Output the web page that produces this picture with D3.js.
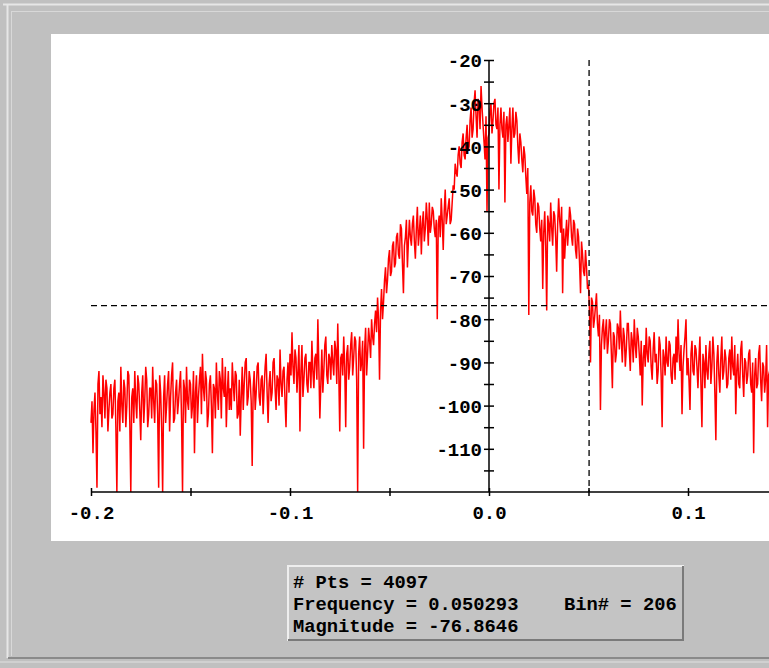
<!DOCTYPE html>
<html><head><meta charset="utf-8">
<script src="https://cdn.jsdelivr.net/npm/d3@7"></script>
<style>html,body{margin:0;padding:0;background:#c0c0c0;overflow:hidden}</style>
</head><body>
<svg id="c" width="769" height="668"></svg>
<script>
// ---- data ----
const freqStart = -0.2;
const freqStep = 0.0005;
const magnitude = [
-104,-99,-111,-101,-97,-106,-119,-95,-92,-102,-98,-105,-93,-97,-103,-94,-96,-106,-101,-97,
-95,-103,-102,-96,-94,-105,-120,-99,-97,-106,-91,-100,-104,-94,-96,-105,-100,-92,-93,-104,
-120,-98,-96,-104,-92,-99,-103,-93,-95,-101,-108,-97,-93,-104,-99,-91,-94,-105,-102,-96,
-96,-103,-91,-99,-104,-94,-95,-102,-119,-93,-97,-105,-120,-98,-93,-104,-100,-95,-92,-106,
-98,-93,-90,-104,-103,-97,-94,-102,-99,-95,-92,-103,-120,-94,-96,-104,-91,-99,-101,-94,
-95,-103,-100,-92,-111,-97,-93,-104,-98,-94,-91,-102,-88,-96,-99,-92,-94,-105,-102,-95,
-93,-100,-111,-95,-96,-103,-90,-97,-101,-92,-94,-103,-89,-96,-98,-91,-105,-97,-92,-101,
-96,-101,-90,-95,-99,-92,-93,-103,-102,-94,-107,-98,-91,-101,-95,-90,-89,-100,-98,-92,
-94,-99,-114,-96,-92,-101,-97,-91,-90,-98,-100,-94,-93,-102,-96,-91,-88,-97,-104,-95,
-92,-99,-97,-90,-89,-96,-101,-93,-94,-100,-87,-95,-98,-92,-91,-99,-105,-94,-90,-97,
-88,-93,-83,-91,-95,-87,-89,-97,-92,-86,-106,-92,-86,-98,-94,-89,-88,-95,-97,-90,
-90,-96,-85,-92,-96,-89,-88,-94,-80,-91,-103,-95,-87,-97,-92,-86,-84,-93,-95,-88,
-89,-94,-86,-90,-93,-85,-87,-95,-81,-92,-106,-89,-88,-93,-84,-91,-105,-88,-86,-94,
-91,-86,-83,-93,-89,-84,-85,-94,-120,-88,-84,-92,-90,-85,-110,-87,-82,-93,-88,-82,
-85,-89,-80,-84,-86,-81,-78,-83,-75,-80,-94,-78,-73,-80,-76,-71,-68,-74,-71,-66,
-64,-70,-69,-63,-62,-68,-67,-61,-60,-65,-66,-58,-59,-67,-74,-63,-61,-57,-68,-62,
-57,-61,-63,-58,-56,-62,-66,-59,-54,-63,-60,-56,-65,-58,-55,-62,-59,-53,-57,-63,
-53,-60,-58,-54,-55,-59,-61,-57,-80,-58,-56,-61,-52,-57,-64,-55,-50,-58,-56,-54,
-52,-58,-57,-53,-49,-50,-44,-46,-47,-42,-40,-44,-45,-39,-37,-42,-43,-38,-35,-41,
-40,-34,-31,-38,-36,-30,-27,-33,-38,-29,-30,-36,-26,-31,-35,-39,-43,-33,-55,-38,
-37,-32,-30,-37,-34,-30,-29,-35,-36,-31,-50,-35,-31,-36,-38,-32,-53,-35,-33,-39,
-35,-31,-44,-36,-31,-38,-37,-32,-34,-40,-44,-37,-39,-43,-46,-40,-42,-47,-51,-45,
-79,-53,-49,-55,-56,-50,-52,-58,-60,-53,-54,-59,-62,-57,-73,-60,-55,-63,-78,-56,
-58,-62,-53,-59,-63,-55,-56,-61,-69,-58,-52,-57,-60,-54,-74,-59,-66,-61,-57,-63,
-59,-54,-56,-61,-63,-57,-58,-64,-66,-59,-61,-67,-74,-62,-65,-69,-70,-64,-68,-73,
-72,-78,-90,-75,-76,-82,-80,-77,-74,-81,-84,-79,-101,-86,-82,-80,-87,-83,-80,-88,
-85,-80,-81,-88,-96,-83,-84,-90,-88,-81,-82,-87,-78,-85,-90,-82,-84,-91,-87,-81,
-81,-87,-92,-83,-85,-90,-80,-86,-89,-82,-84,-88,-93,-85,-100,-89,-86,-91,-82,-88,
-90,-84,-85,-91,-94,-87,-83,-90,-88,-95,-92,-84,-86,-93,-105,-87,-89,-93,-84,-90,
-91,-85,-86,-93,-95,-89,-88,-94,-84,-90,-80,-88,-92,-86,-102,-91,-87,-84,-80,-93,
-89,-94,-101,-88,-85,-92,-93,-86,-87,-91,-96,-89,-84,-95,-105,-88,-90,-96,-86,-92,
-94,-88,-85,-95,-91,-84,-88,-97,-108,-90,-86,-93,-97,-89,-84,-94,-92,-87,-89,-96,
-95,-89,-87,-94,-84,-91,-93,-86,-102,-92,-88,-95,-96,-87,-85,-93,-98,-89,-90,-95,
-93,-88,-87,-95,-97,-90,-111,-93,-89,-96,-95,-88,-86,-94,-99,-90,-91,-97,-94,-86,-105,-93,-92,-89,-88
];
const xMajorTicks = [-0.2, -0.1, 0.0, 0.1];
const xMinorTicks = [-0.15, -0.05, 0.05];
const yMajorTicks = [-20, -30, -40, -50, -60, -70, -80, -90, -100, -110];
const yMinorTicks = [-25, -35, -45, -55, -65, -75, -85, -95, -105, -115];
const cursorFreq = 0.050293;
const cursorMag = -76.8646;
const infoLines = ["# Pts = 4097", "Frequency = 0.050293", "Magnitude = -76.8646"];
const binText = "Bin# = 206";

// ---- drawing ----
const svg = d3.select("#c");
const W = 769, H = 668;

// window frame
svg.append("rect").attr("x",0).attr("y",0).attr("width",W).attr("height",H).attr("fill","#c0c0c0");
svg.append("line").attr("x1",3).attr("x2",W).attr("y1",4.5).attr("y2",4.5).attr("stroke","#e6e6e6").attr("stroke-width",2);
svg.append("line").attr("x1",7.5).attr("x2",7.5).attr("y1",4).attr("y2",658).attr("stroke","#e6e6e6").attr("stroke-width",2);
svg.append("line").attr("x1",11).attr("x2",W).attr("y1",11.5).attr("y2",11.5).attr("stroke","#d8d8d8").attr("stroke-width",1);
svg.append("line").attr("x1",11.5).attr("x2",11.5).attr("y1",11).attr("y2",656).attr("stroke","#d8d8d8").attr("stroke-width",1);
svg.append("line").attr("x1",8).attr("x2",W).attr("y1",658).attr("y2",658).attr("stroke","#8a8a8a").attr("stroke-width",2);
svg.append("line").attr("x1",0).attr("x2",W).attr("y1",662).attr("y2",662).attr("stroke","#d6d6d6").attr("stroke-width",1.5);

// plot area
const plot = {x:51, y:34, w:W-51, h:541-34};
svg.append("rect").attr("x",plot.x).attr("y",plot.y).attr("width",plot.w).attr("height",plot.h).attr("fill","#ffffff");
svg.append("clipPath").attr("id","clip").append("rect")
  .attr("x",plot.x).attr("y",plot.y).attr("width",plot.w).attr("height",plot.h);

const x = d3.scaleLinear().domain([-0.2, 0.2]).range([91, 887]);
const y = d3.scaleLinear().domain([-120, -20]).range([492, 60]);

const g = svg.append("g").attr("clip-path","url(#clip)");

const FONT = "'Liberation Mono', 'DejaVu Sans Mono', monospace";

// spectrum line
const pts = magnitude.map((m,i) => ({f: freqStart + i*freqStep, m}));
g.append("path").datum(pts)
  .attr("fill","none").attr("stroke","#ff0000").attr("stroke-width",1.5)
  .attr("d", d3.line().x(d => x(d.f)).y(d => y(d.m)));

// cursor lines
g.append("line").attr("x1",x(-0.2)).attr("x2",W).attr("y1",y(cursorMag)).attr("y2",y(cursorMag))
  .attr("stroke","#000").attr("stroke-width",1.3).attr("stroke-dasharray","6,4");
g.append("line").attr("x1",x(cursorFreq)).attr("x2",x(cursorFreq)).attr("y1",y(-20)).attr("y2",y(-120))
  .attr("stroke","#000").attr("stroke-width",1.3).attr("stroke-dasharray","6,4");

// x axis
const xAxis = d3.axisBottom(x)
  .tickValues(xMajorTicks.concat(xMinorTicks))
  .tickSize(4)
  .tickPadding(14)
  .tickFormat(d => xMajorTicks.includes(d) ? d.toFixed(1) : "");
const gx = g.append("g").attr("transform",`translate(0,${y(-120)})`).call(xAxis);
gx.select(".domain").attr("d", `M${x(-0.2)},0H${W+10}`).attr("stroke","#000").attr("stroke-width",1.5);
gx.selectAll(".tick line").attr("y1",-4).attr("y2",4).attr("stroke","#000").attr("stroke-width",1.5);
gx.selectAll(".tick text").attr("font-family",FONT).attr("font-weight","bold")
  .attr("font-size","19px").attr("fill","#000").attr("dy","0.45em").attr("text-anchor","middle");

// y axis
const yAxis = d3.axisLeft(y)
  .tickValues(yMajorTicks.concat(yMinorTicks))
  .tickSize(5)
  .tickPadding(3)
  .tickFormat(d => yMajorTicks.includes(d) ? String(d) : "");
const gy = g.append("g").attr("transform",`translate(${x(0)},0)`).call(yAxis);
gy.select(".domain").attr("d", `M0,${y(-20)}V${y(-120)}`).attr("stroke","#000").attr("stroke-width",1.5);
gy.selectAll(".tick line").attr("x1",-5).attr("x2",5).attr("stroke","#000").attr("stroke-width",1.5);
gy.selectAll(".tick text").attr("font-family",FONT).attr("font-weight","bold")
  .attr("font-size","19px").attr("fill","#000").attr("x",-7).attr("dy","0.36em");

// info box
const box = {x:287, y:565, w:397, h:76};
svg.append("rect").attr("x",box.x).attr("y",box.y).attr("width",box.w).attr("height",box.h).attr("fill","#c4c4c4");
svg.append("path").attr("d",`M${box.x+1},${box.y+box.h}V${box.y+1}H${box.x+box.w}`)
  .attr("fill","none").attr("stroke","#eeeeee").attr("stroke-width",2);
svg.append("path").attr("d",`M${box.x+1},${box.y+box.h-1}H${box.x+box.w-1}V${box.y+1}`)
  .attr("fill","none").attr("stroke","#7a7a7a").attr("stroke-width",2);
const baselines = [588, 610, 632];
svg.selectAll("text.info").data(infoLines).join("text").attr("class","info")
  .attr("x",293).attr("y",(d,i)=>baselines[i])
  .attr("font-family",FONT).attr("font-weight","bold").attr("font-size","18.8px").attr("fill","#000")
  .text(d=>d);
svg.append("text").attr("x",564).attr("y",baselines[1])
  .attr("font-family",FONT).attr("font-weight","bold").attr("font-size","18.8px").attr("fill","#000")
  .text(binText);
</script>
</body></html>
